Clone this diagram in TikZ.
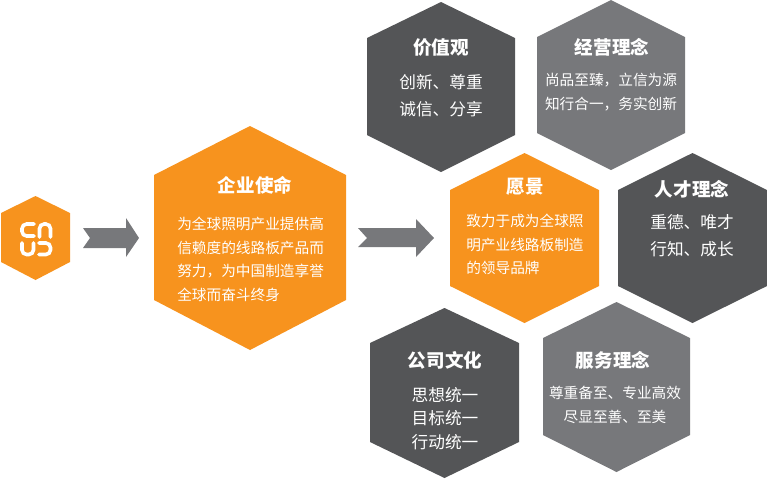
\documentclass[tikz,border=0pt]{standalone}
\usepackage{fontspec}
\usepackage{xcolor}
\setmainfont{Noto Sans CJK SC}
\definecolor{hexorange}{HTML}{F7931E}
\definecolor{hexdark}{HTML}{545557}
\definecolor{hexgray}{HTML}{77787B}
\tikzset{
    titletext/.style={white, font=\fontsize{13.9}{16}\selectfont\bfseries},
    bodysmall/.style={white, inner sep=0pt, align=left, font=\fontsize{11}{17.8}\selectfont},
    bodylarge/.style={white, inner sep=0pt, align=center, font=\fontsize{12.5}{20}\selectfont},
    logostroke/.style={white, line width=2.7pt, line cap=round, rounded corners=3.5pt}
}

\begin{document}
\begin{tikzpicture}[x=0.75pt, y=-0.75pt]
    \useasboundingbox (0, 0) rectangle (767, 480);

    % Logo
    \fill [hexorange] (35.5, 196) -- (70, 213) -- (70, 262) -- (35.5, 280) -- (1, 262) -- (1, 213) -- cycle;
    \draw [logostroke] (34, 224) -- (22, 224) -- (22, 236) -- (34, 236);
    \draw [logostroke] (39.5, 237) -- (39.5, 224) -- (50.5, 224) -- (50.5, 237);
    \draw [logostroke] (22, 243) -- (22, 254.5) -- (33.5, 254.5) -- (33.5, 243);
    \draw [logostroke] (39, 243) -- (50.5, 243) -- (50.5, 254.5) -- (39, 254.5);

    % Arrows
    \fill [hexgray] (83, 228) -- (126, 228) -- (126, 218) -- (139, 238) -- (126, 257) -- (126, 248) -- (83, 248) -- (90, 238) -- cycle;
    \fill [hexgray] (358, 228) -- (416, 228) -- (416, 219) -- (434, 238) -- (416, 257) -- (416, 247) -- (358, 247) -- (367, 238) -- cycle;

    % Mission
    \fill [hexorange] (250, 126) -- (346, 175) -- (346, 300) -- (250, 350) -- (154, 300) -- (154, 175) -- cycle;
    \node [titletext] (missiontitle) at (255, 185) {企业使命};
    \node [bodysmall, anchor=west] (missionbody) at (177, 259.5) {为全球照明产业提供高\\信赖度的线路板产品而\\努力，为中国制造享誉\\全球而奋斗终身};

    % Values
    \fill [hexdark] (441, 2) -- (515, 38) -- (515, 135) -- (441, 172) -- (367, 135) -- (367, 38) -- cycle;
    \node [titletext] (valuestitle) at (441, 48) {价值观};
    \node [bodylarge] (valuesbody) at (441, 95.5) {创新、尊重\\诚信、分享};

    % Business
    \fill [hexgray] (611, 0) -- (685, 37) -- (685, 133) -- (611, 170) -- (537, 133) -- (537, 37) -- cycle;
    \node [titletext] (businesstitle) at (612, 47) {经营理念};
    \node [bodysmall, align=center] (businessbody) at (611, 92) {尚品至臻，立信为源\\知行合一，务实创新};

    % Vision
    \fill [hexorange] (524.5, 153) -- (599, 190) -- (599, 286) -- (524.5, 323) -- (450, 286) -- (450, 190) -- cycle;
    \node [titletext] (visiontitle) at (525, 187) {愿景};
    \node [bodysmall, anchor=west] (visionbody) at (466, 244.5) {致力于成为全球照\\明产业线路板制造\\的领导品牌};

    % Talent
    \fill [hexdark] (692.5, 153) -- (767, 190) -- (767, 286) -- (692.5, 323) -- (618, 286) -- (618, 190) -- cycle;
    \node [titletext] (talenttitle) at (692, 189) {人才理念};
    \node [bodylarge] (talentbody) at (692, 235.5) {重德、唯才\\行知、成长};

    % Culture
    \fill [hexdark] (444.5, 308) -- (519, 343) -- (519, 442) -- (444.5, 478) -- (370, 442) -- (370, 343) -- cycle;
    \node [titletext] (culturetitle) at (445, 360) {公司文化};
    \node [bodylarge, font=\fontsize{12.5}{17.8}\selectfont] (culturebody) at (445, 418.5) {思想统一\\目标统一\\行动统一};

    % Service
    \fill [hexgray] (616.5, 302) -- (690, 338) -- (690, 435) -- (616.5, 472) -- (543, 435) -- (543, 338) -- cycle;
    \node [titletext] (servicetitle) at (613, 360) {服务理念};
    \node [bodysmall, align=center] (servicebody) at (615, 405) {尊重备至、专业高效\\尽显至善、至美};
\end{tikzpicture}
\end{document}
